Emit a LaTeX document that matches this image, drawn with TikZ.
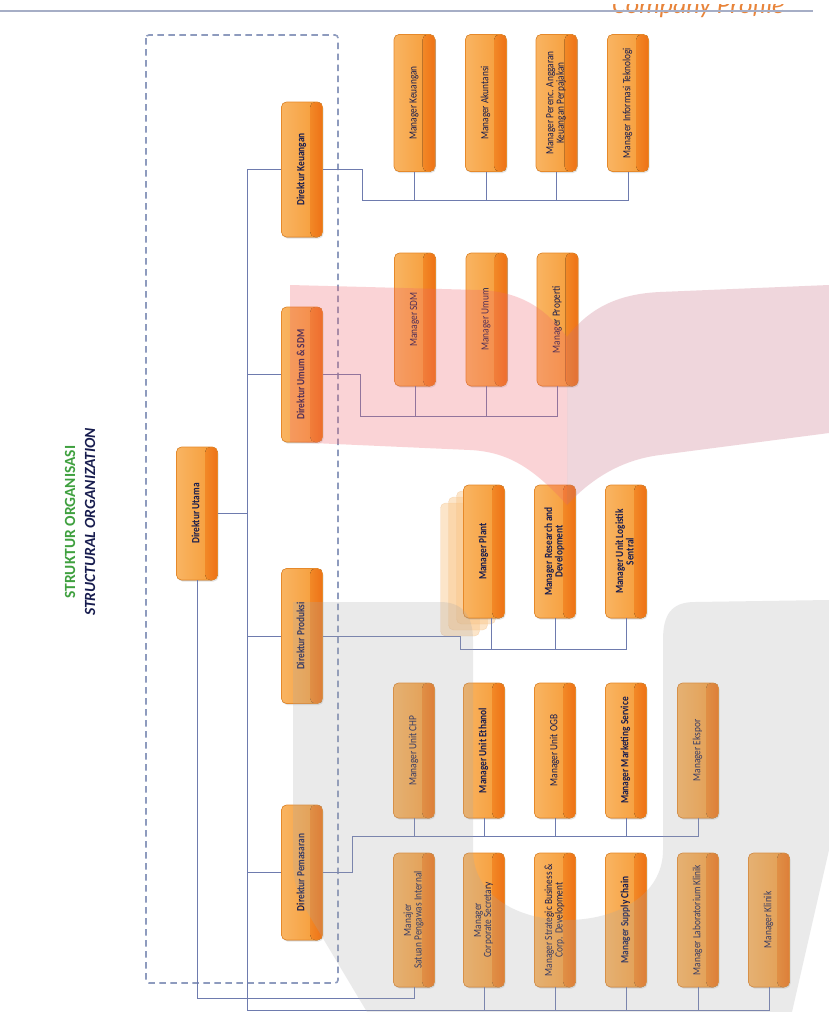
\documentclass[tikz,border=0pt]{standalone}
\usepackage{fontspec}
\setmainfont{Carlito}
\newfontfamily\boxfnt[FakeStretch=0.85]{Carlito}
\usetikzlibrary{shadows,calc}
\definecolor{oL}{HTML}{F9B462}
\definecolor{oM}{HTML}{F59A34}
\definecolor{oR}{HTML}{EE7216}
\definecolor{oB}{HTML}{E6892A}
\definecolor{navy}{HTML}{171C4E}
\definecolor{lnk}{HTML}{6E7BAE}
\definecolor{dsh}{HTML}{8E9BBE}
\definecolor{ttlgreen}{HTML}{3FA03F}
\definecolor{cporange}{HTML}{E8843A}
\definecolor{topln}{HTML}{A6AEC6}
\definecolor{pinkA}{RGB}{240,100,110}
\definecolor{pinkB}{RGB}{200,110,130}
\definecolor{wm}{RGB}{168,168,170}
\newcommand\bxt[1]{\rotatebox{90}{\renewcommand\arraystretch{0.85}\begin{tabular}{@{}c@{}}#1\end{tabular}}}
\tikzset{
  orgbox/.style={rounded corners=5pt, draw=oB, line width=0.6pt,
    minimum width=41pt, minimum height=135pt, inner sep=0pt, text=navy,
    font=\boxfnt\fontsize{11}{11.5}\selectfont,
    drop shadow={opacity=0.22, shadow xshift=1pt, shadow yshift=-1.5pt},
    path picture={
      \fill[left color=oL, right color=oM] (path picture bounding box.south west) rectangle (path picture bounding box.north east);
      \fill[left color=oM!55!oR, right color=oR] ($(path picture bounding box.south west)!0.7!(path picture bounding box.south east)$) rectangle (path picture bounding box.north east);
    }},
  dirbox/.style={orgbox, font=\boxfnt\fontsize{11}{11.5}\selectfont\bfseries},
  ghost/.style={rounded corners=5pt, draw=oB!60, fill=oL!75, opacity=0.45,
    minimum width=39pt, minimum height=133pt, inner sep=0pt},
  link/.style={draw=lnk, line width=0.9pt},
  bold/.style={font=\boxfnt\fontsize{11}{11.5}\selectfont\bfseries},
}
\begin{document}
\begin{tikzpicture}[x=1pt,y=-1pt]
\useasboundingbox (0,0) rectangle (829,1012);
\fill[white] (0,0) rectangle (829,1012);

% header
\begin{scope}
\clip (0,4.5) rectangle (829,1012);
\node[anchor=base west, text=cporange, font=\fontsize{26}{26}\selectfont\itshape, inner sep=0pt] (cp) at (612,13) {Company Profile};
\end{scope}
\draw[topln, line width=1.2pt] (0,11) -- (813,11);

% titles
\node[text=ttlgreen, font=\fontsize{15.5}{15.5}\selectfont\bfseries, inner sep=0pt] (t1) at (70,522) {\rotatebox{90}{STRUKTUR ORGANISASI}};
\node[text=navy, font=\fontsize{15.5}{15.5}\selectfont\bfseries\itshape, inner sep=0pt] (t2) at (90,522) {\rotatebox{90}{STRUCTURAL ORGANIZATION}};

% dashed frame
\draw[dsh, line width=1.6pt, dash pattern=on 6.5pt off 4.5pt, rounded corners=3pt] (146,35) rectangle (338,983);

% coordinates for buses
\coordinate (kb) at (362,200);
\coordinate (ub) at (360,416);
\coordinate (pb) at (460,649);
\coordinate (mbus) at (352,836);
\coordinate (tb) at (247,1010);
\coordinate (sb) at (0,998);

% ghost copies behind Manager Plant
\node[ghost] (g3) at (460,569.5) {};
\node[ghost] (g2) at (468,563.5) {};
\node[ghost] (g1) at (476,557.5) {};

\node[dirbox] (dk) at (302,169.5) {\bxt{Direktur Keuangan}};
\node[dirbox] (du) at (302,374.5) {\bxt{Direktur Umum \& SDM}};
\node[dirbox] (dp) at (302,636) {\bxt{Direktur Produksi}};
\node[dirbox] (dm) at (302,872.5) {\bxt{Direktur Pemasaran}};
\node[dirbox, minimum height=133pt] (dut) at (197,513.5) {\bxt{Direktur Utama}};

\node[orgbox, minimum height=137pt] (mk1) at (414.5,103) {\bxt{Manager Keuangan}};
\node[orgbox, minimum height=137pt] (mk2) at (486,103) {\bxt{Manager Akuntansi}};
\node[orgbox, minimum height=137pt] (mk3) at (556.5,103) {\bxt{Manager Perenc. Anggaran\\Keuangan Perpajakan}};
\node[orgbox, minimum height=137pt] (mk4) at (628,103) {\bxt{Manager Informasi Teknologi}};

\node[orgbox, minimum height=133pt] (mu1) at (415,319.5) {\bxt{Manager SDM}};
\node[orgbox, minimum height=133pt] (mu2) at (486.5,319.5) {\bxt{Manager Umum}};
\node[orgbox, minimum height=133pt] (mu3) at (557.5,319.5) {\bxt{Manager Properti}};

\node[orgbox, bold, minimum height=133pt] (mp1) at (484,551.5) {\bxt{Manager Plant}};
\node[orgbox, bold, minimum height=133pt] (mp2) at (555,551.5) {\bxt{Manager Research and\\Development}};
\node[orgbox, bold, minimum height=133pt] (mp3) at (626,551.5) {\bxt{Manager Unit Logistik\\Sentral}};

\node[orgbox] (ma1) at (414,750.5) {\bxt{Manager Unit CHP}};
\node[orgbox, bold] (ma2) at (484,750.5) {\bxt{Manager Unit Ethanol}};
\node[orgbox] (ma3) at (555,750.5) {\bxt{Manager Unit OGB}};
\node[orgbox, bold] (ma4) at (626,750.5) {\bxt{Manager Marketing Service}};
\node[orgbox] (ma5) at (698,750.5) {\bxt{Manager Ekspor}};

\node[orgbox, minimum height=134pt] (mb1) at (414,920) {\bxt{Manajer\\Satuan Pengawas Internal}};
\node[orgbox, minimum height=134pt] (mb2) at (484,920) {\bxt{Manager\\Corporate Secretary}};
\node[orgbox, minimum height=134pt] (mb3) at (555,920) {\bxt{Manager Strategic Business \&\\Corp. Development}};
\node[orgbox, bold, minimum height=134pt] (mb4) at (626,920) {\bxt{Manager Supply Chain}};
\node[orgbox, minimum height=134pt] (mb5) at (698,920) {\bxt{Manager Laboratorium Klinik}};
\node[orgbox, minimum height=134pt] (mb6) at (769,920) {\bxt{Manager Klinik}};

% connectors between named nodes
\draw[link] (dk.east) -| (kb) -| (mk4.south);
\foreach \n in {mk1,mk2,mk3} \draw[link] (\n.south) -- (\n.south |- kb);
\draw[link] (du.east) -| (ub) -| (mu3.south);
\foreach \n in {mu1,mu2} \draw[link] (\n.south) -- (\n.south |- ub);
\draw[link] (dp.east) -| (pb) -| (mp3.south);
\draw[link] ([xshift=7pt]mp1.south) -- ([xshift=7pt]mp1.south |- pb);
\draw[link] (mp2.south) -- (mp2.south |- pb);
\draw[link] (dm.east) -| (mbus) -| (ma5.south);
\foreach \n in {ma1,ma2,ma3,ma4} \draw[link] (\n.south) -- (\n.south |- mbus);
\draw[link] (dk.west) -| (tb) -| (mb6.south);
\foreach \n in {du,dp,dm} \draw[link] (\n.west) -- (\n.west -| tb);
\draw[link] (dut.east) -- (dut.east -| tb);
\foreach \n in {mb2,mb3,mb4,mb5} \draw[link] (\n.south) -- (\n.south |- tb);
\draw[link] (dut.south) -- (dut.south |- sb) -| (mb1.south);

% watermark overlays
\fill[pinkA, opacity=0.28] (290,285) -- (480,290) .. controls (525,292) and (548,312) .. (567,337) -- (567,505) .. controls (535,470) and (510,452) .. (470,450) -- (290,442) -- cycle;
\fill[pinkB, opacity=0.28] (567,337) .. controls (588,310) and (615,294) .. (660,292) -- (829,285) -- (829,433) -- (660,455) .. controls (620,460) and (590,480) .. (567,505) -- cycle;
\fill[wm, opacity=0.24] (293,602) -- (440,602) .. controls (462,602) and (473,615) .. (473,640) -- (473,850) .. controls (473,895) and (517,920) .. (567,920) .. controls (617,920) and (663,895) .. (663,850) -- (663,640) .. controls (663,615) and (671,602) .. (695,602) -- (829,600) -- (829,850) -- (792,1012) -- (367,1012) -- (312,920) .. controls (300,900) and (293,885) .. (293,860) -- cycle;
\end{tikzpicture}
\end{document}
